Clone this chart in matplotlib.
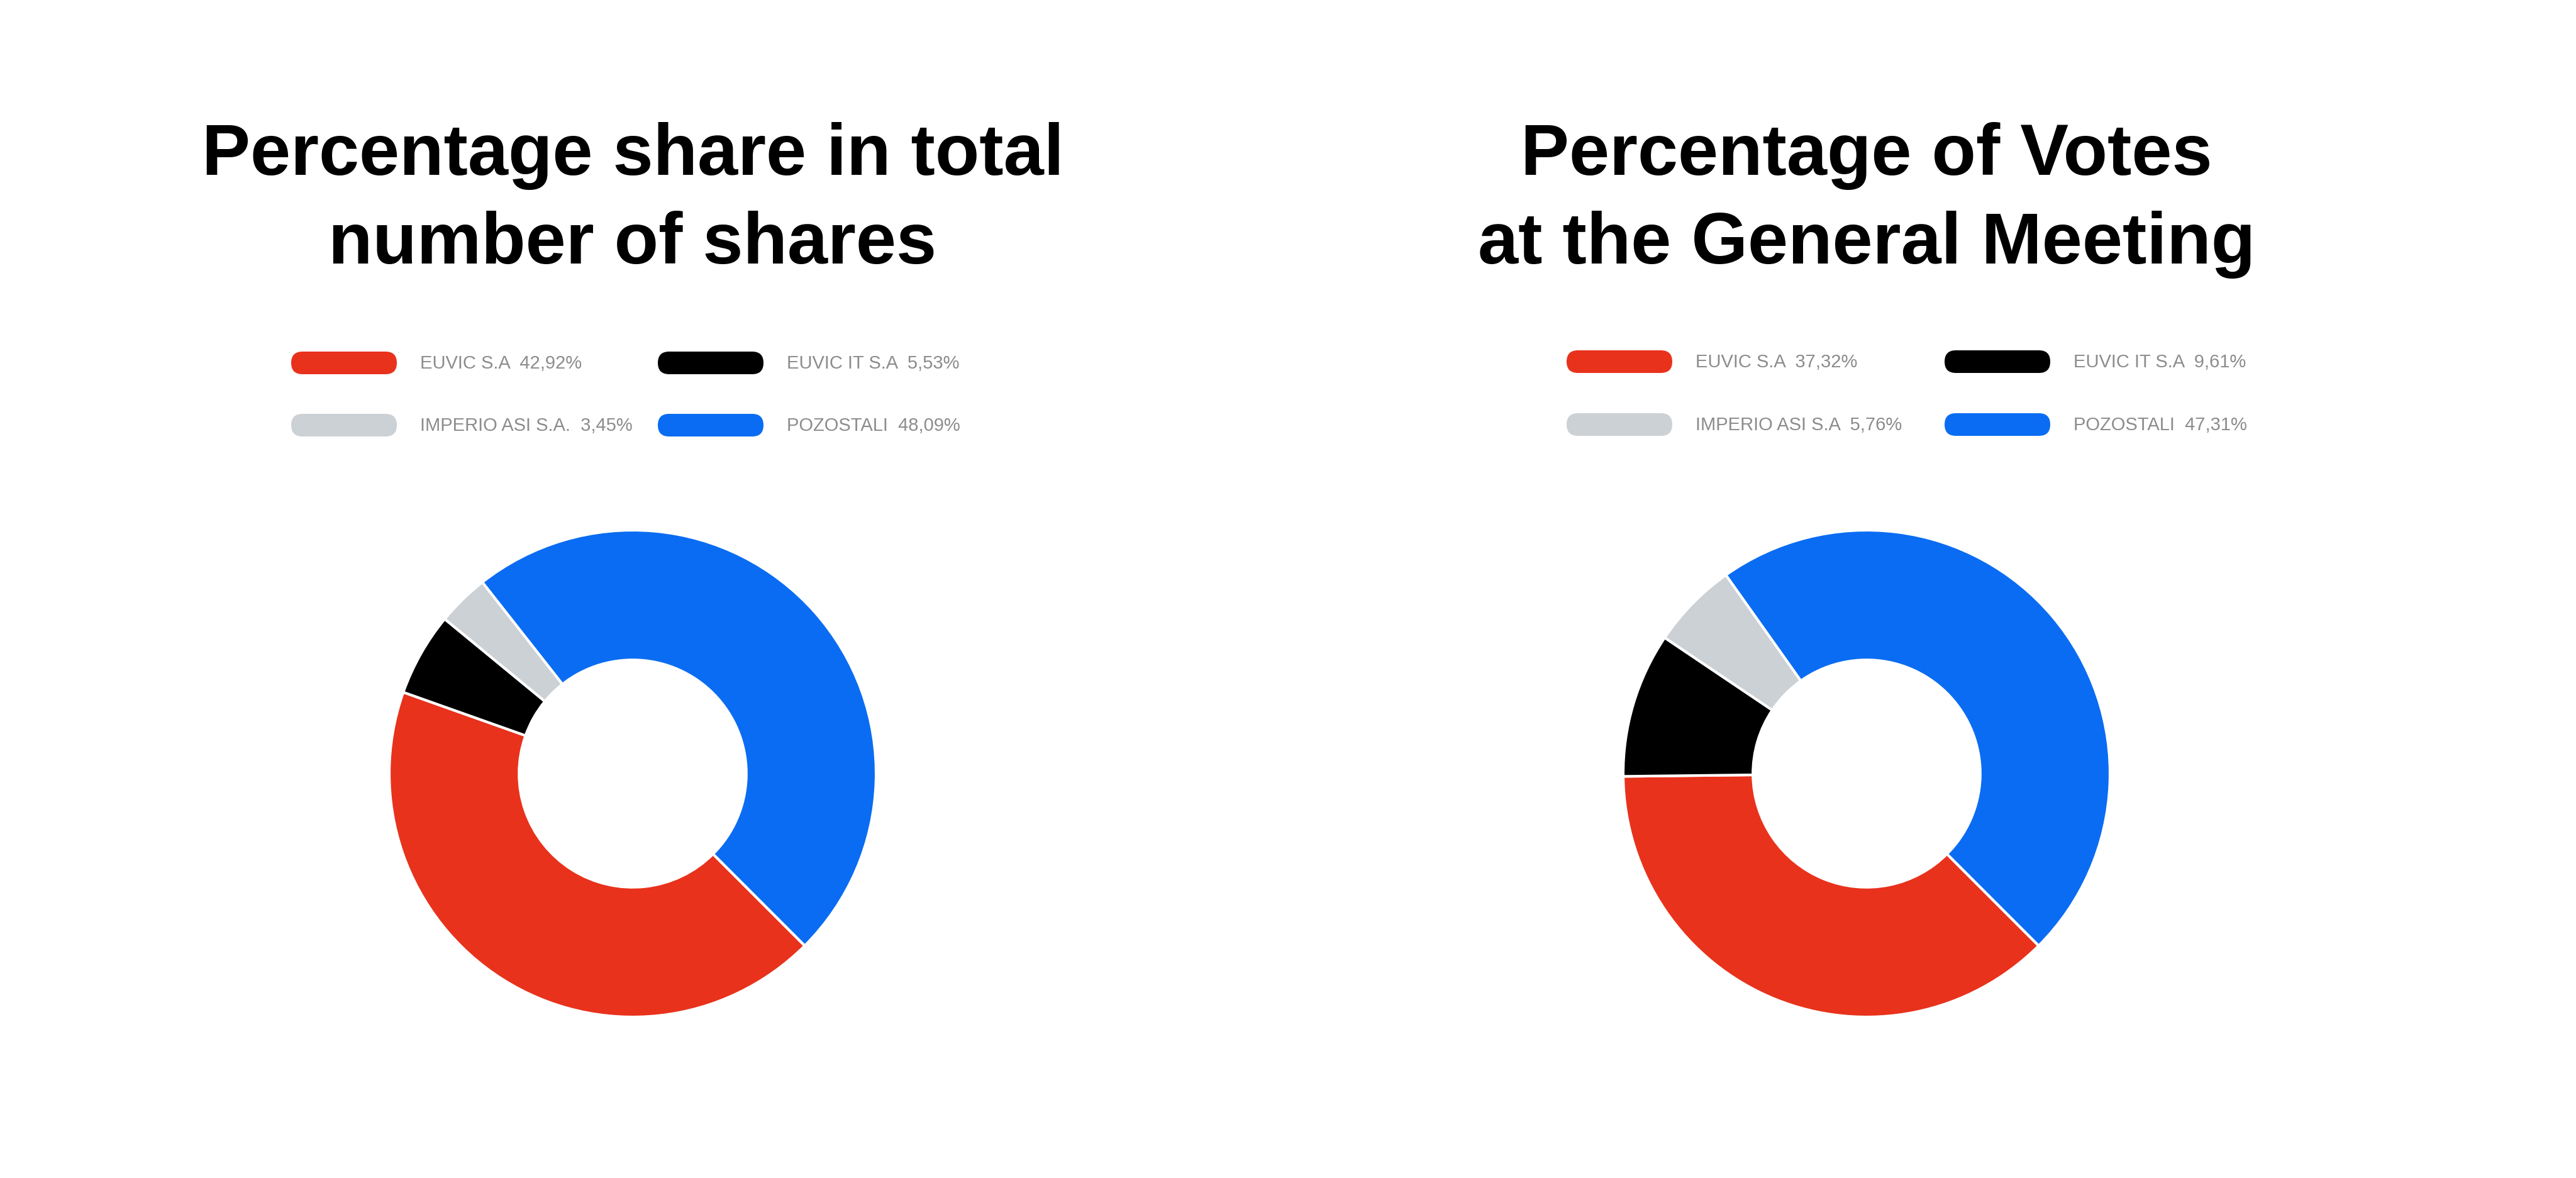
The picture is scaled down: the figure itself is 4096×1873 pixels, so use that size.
import matplotlib.pyplot as plt
from matplotlib.patches import FancyBboxPatch

plt.rcParams['font.family'] = ['Liberation Sans', 'DejaVu Sans']

# data
names_shares = ['EUVIC S.A', 'EUVIC IT S.A', 'IMPERIO ASI S.A.', 'POZOSTALI']
values_shares = [42.92, 5.53, 3.45, 48.09]

names_votes = ['EUVIC S.A', 'EUVIC IT S.A', 'IMPERIO ASI S.A', 'POZOSTALI']
values_votes = [37.32, 9.61, 5.76, 47.31]

colors = ['#E8321C', '#000000', '#CCD1D6', '#0A6CF2']

title_shares = 'Percentage share in total\nnumber of shares'
title_votes = 'Percentage of Votes\nat the General Meeting'

W, H = 4096, 1873
fig = plt.figure(figsize=(W / 100, H / 100), dpi=100)

# full-figure axes in pixel units for titles and legends
bg = fig.add_axes([0, 0, 1, 1])
bg.set_xlim(0, W)
bg.set_ylim(H, 0)
bg.axis('off')

R = 387  # donut radius in px
cy = 1230

charts = [
    # centre x, title, names, values, legend column lefts, legend row centres
    (1006, title_shares, names_shares, values_shares, (463, 1046), (577, 676)),
    (2968, title_votes, names_votes, values_votes, (2491, 3092), (575, 675)),
]

for cx, title, names, values, cols, rows in charts:
    # title, drawn line by line
    for i, line in enumerate(title.split('\n')):
        bg.text(cx, 278 + i * 141, line, ha='center', va='baseline',
                fontsize=83, fontweight='bold', color='black')

    # legend: 2x2 grid, rounded pills + grey labels
    for k, (name, v) in enumerate(zip(names, values)):
        x0 = cols[k % 2]
        yc = rows[k // 2]
        pill = FancyBboxPatch((x0, yc - 18), 168, 36,
                              boxstyle='round,pad=0,rounding_size=18',
                              facecolor=colors[k], edgecolor='none')
        bg.add_patch(pill)
        pct = f"{v:.2f}".replace('.', ',')
        bg.text(x0 + 205, yc + 1, f"{name}  {pct}%", ha='left', va='center',
                fontsize=21, color='#8C8C8C')

    # donut
    ax = fig.add_axes([(cx - R) / W, (H - cy - R) / H, 2 * R / W, 2 * R / H])
    ax.pie(values, colors=colors, startangle=-45, counterclock=False,
           radius=1, wedgeprops=dict(width=0.533, edgecolor='white', linewidth=3))
    ax.set_xlim(-1, 1)
    ax.set_ylim(-1, 1)
    ax.set_aspect('equal')
    ax.axis('off')

fig.savefig('out.png', dpi=100, facecolor='white')
